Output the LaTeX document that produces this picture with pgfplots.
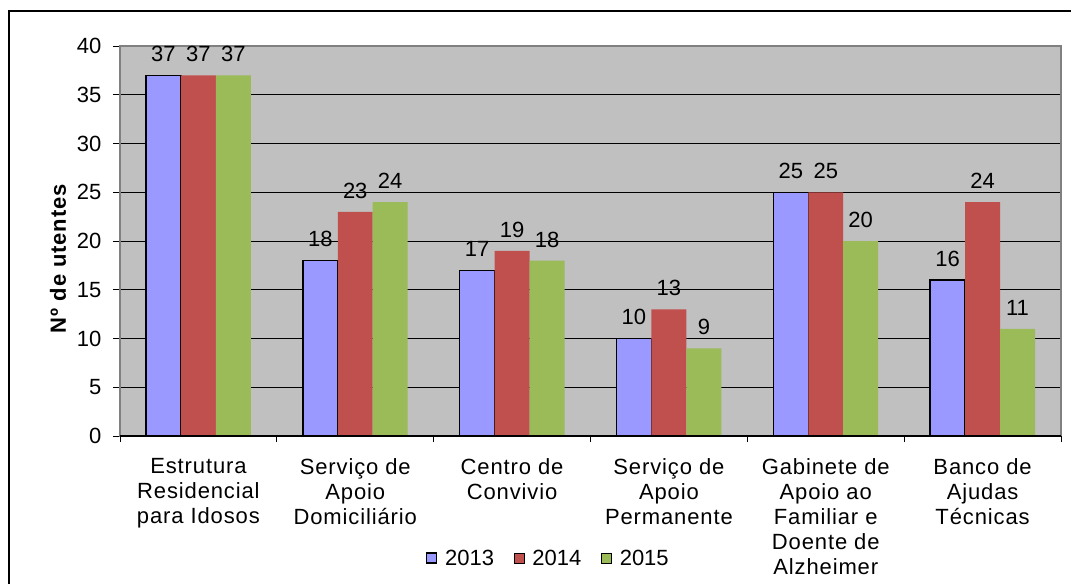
\documentclass[border=0pt]{standalone}
\usepackage{pgfplots}
\pgfplotsset{compat=1.18}
\usepackage{fontspec}
\setmainfont{Liberation Sans}
\newfontfamily\widefont[LetterSpace=4]{Liberation Sans}
\definecolor{cA}{HTML}{9999FF}
\definecolor{cB}{HTML}{C0504D}
\definecolor{cC}{HTML}{9BBB59}
\definecolor{bg}{HTML}{C0C0C0}
\definecolor{brd}{HTML}{808080}
\begin{document}
\begin{tikzpicture}[x=1pt,y=1pt]
\useasboundingbox (0,0) rectangle (1071,584);
\draw[line width=1.2pt] (9,0) -- (9,573) -- (1071,573);
\begin{axis}[
  at={(120pt,148pt)}, anchor=south west,
  scale only axis, width=941pt, height=390pt,
  xmin=-0.5, xmax=5.5, ymin=0, ymax=40,
  ytick={0,5,...,40},
  ymajorgrids, grid style={black, line width=0.8pt},
  axis background/.style={fill=bg},
  axis line style={brd, line width=1.5pt},
  tick align=outside, tick pos=left,
  major tick length=7pt,
  tick style={black, line width=0.8pt},
  ybar=0pt, bar width=0.223,
  xtick={0,...,5},
  xtick style={draw=none},
  extra x ticks={-0.5,0.5,...,5.5},
  extra x tick labels={},
  extra x tick style={xtick style={draw=black}, major tick length=6pt, grid=none},
  xticklabels={{Estrutura\\Residencial\\para Idosos},{Serviço de\\Apoio\\Domiciliário},{Centro de\\Convivio},{Serviço de\\Apoio\\Permanente},{Gabinete de\\Apoio ao\\Familiar e\\Doente de\\Alzheimer},{Banco de\\Ajudas\\Técnicas}},
  xticklabel style={align=center, font=\widefont\fontsize{22}{25}\selectfont, inner sep=0pt, yshift=-15pt},
  yticklabel style={font=\fontsize{22}{25}\selectfont, xshift=-8pt},
  /pgf/number format/assume math mode=true,
  ylabel={\textbf{Nº de utentes}},
  ylabel style={font=\widefont\fontsize{22}{25}\selectfont, at={(axis description cs:-0.066,0.456)}, anchor=center, rotate=0},
  nodes near coords,
  every node near coord/.append style={font=\fontsize{22}{25}\selectfont, inner sep=0pt, yshift=13pt, black},
  legend style={at={(axis description cs:0.455,-0.313)}, anchor=center, draw=none, fill=none,
    legend columns=3, font=\fontsize{22}{25}\selectfont,
    /tikz/every odd column/.append style={column sep=6pt},
    /tikz/every even column/.append style={column sep=18pt}},
  legend image code/.code={\draw[#1] (0pt,-5pt) rectangle (10pt,5pt);},
]
\addplot[fill=cA, draw=black, line width=1.5pt] coordinates {(0,37) (1,18) (2,17) (3,10) (4,25) (5,16)};
\addplot[fill=cB, draw=none] coordinates {(0,37) (1,23) (2,19) (3,13) (4,25) (5,24)};
\addplot[fill=cC, draw=none] coordinates {(0,37) (1,24) (2,18) (3,9) (4,20) (5,11)};
\legend{2013,2014,2015}
\draw[black, line width=1.5pt] (axis cs:-0.5,0) -- (axis cs:5.5,0);
\end{axis}
\end{tikzpicture}
\end{document}
